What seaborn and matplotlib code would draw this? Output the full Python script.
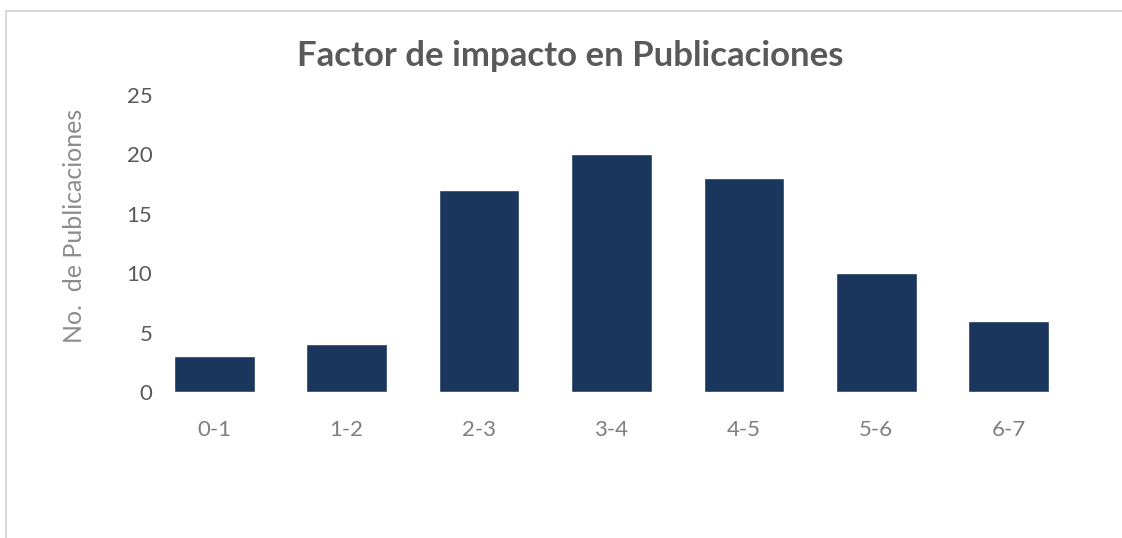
import matplotlib
matplotlib.use("Agg")
import matplotlib.pyplot as plt
import seaborn as sns
import pandas as pd
from matplotlib.patches import Rectangle

# data
rangos = ["0-1", "1-2", "2-3", "3-4", "4-5", "5-6", "6-7"]
publicaciones = [3, 4, 17, 20, 18, 10, 6]
y_ticks = [0, 5, 10, 15, 20, 25]

df = pd.DataFrame({"Rango": rangos, "Publicaciones": publicaciones})

sns.set_theme(style="white")
plt.rcParams["font.family"] = ["Lato", "DejaVu Sans"]

fig = plt.figure(figsize=(11.22, 5.38), dpi=100)
ax = fig.add_axes([0.132, 0.2714, 0.826, 0.552])

sns.barplot(data=df, x="Rango", y="Publicaciones", color="#1A365D",
            width=0.61, saturation=1, ax=ax)

ax.set_ylim(0, 25)
ax.set_yticks(y_ticks)
ax.set_xlim(-0.5, len(rangos) - 0.5)
sns.despine(ax=ax, left=True, bottom=True)
ax.tick_params(axis="y", length=0, labelsize=16, labelcolor="#595959", pad=-3)
ax.tick_params(axis="x", length=0, labelsize=16, labelcolor="#7f7f7f", pad=20)
ax.set_xlabel("")
ax.set_ylabel("No.  de Publicaciones", fontsize=18, color="#8c8c8c")
ax.yaxis.set_label_coords(-0.067, 0.56)

fig.text(0.508, 0.895, "Factor de impacto en Publicaciones", ha="center", va="center",
         fontsize=25, fontweight="bold", color="#595959")

# light chart-area border (cropped at right and bottom)
fig.patches.append(Rectangle((6 / 1122, -0.1), 1.2, (538 - 11) / 538 + 0.1,
                             transform=fig.transFigure, fill=False,
                             edgecolor="#d9d9d9", linewidth=1.5))

fig.savefig("out.png", dpi=100)
plt.close(fig)
